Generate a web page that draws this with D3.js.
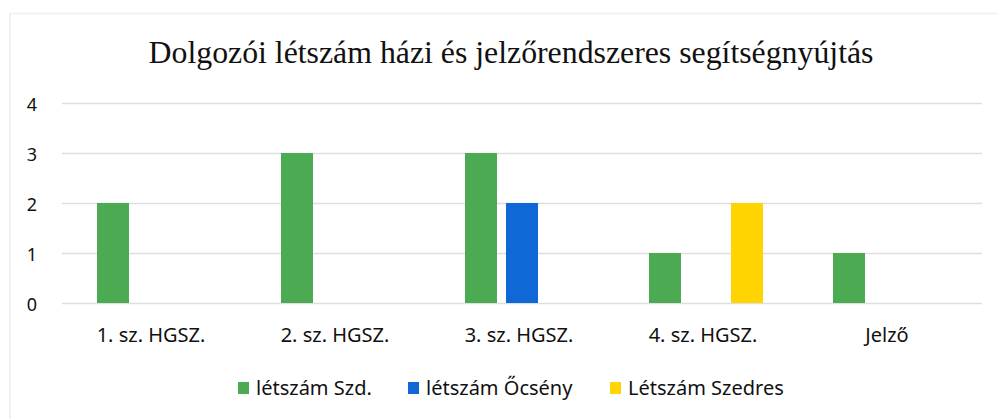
<!DOCTYPE html>
<html>
<head>
<meta charset="utf-8">
<script src="https://cdn.jsdelivr.net/npm/d3@7"></script>
<style>
  html, body { margin: 0; padding: 0; background: #fff; }
  svg { display: block; }
</style>
</head>
<body>
<svg id="chart" width="997" height="419"></svg>
<script>
const title = "Dolgozói létszám házi és jelzőrendszeres segítségnyújtás";
const categories = ["1. sz. HGSZ.", "2. sz. HGSZ.", "3. sz. HGSZ.", "4. sz. HGSZ.", "Jelző"];
const seriesNames = ["létszám Szd.", "létszám Őcsény", "Létszám Szedres"];
const szdValues = [2, 3, 3, 1, 1];
const ocsenyValues = [0, 0, 2, 0, 0];
const szedresValues = [0, 0, 0, 2, 0];
const seriesColors = ["#4caa52", "#0f68d6", "#ffd400"];
const yTicks = [0, 1, 2, 3, 4];

const seriesValues = [szdValues, ocsenyValues, szedresValues];
const svg = d3.select("#chart");
const sans = "'Noto Sans', 'Open Sans', sans-serif";

// faint frame
svg.append("line").attr("x1", 10).attr("x2", 10).attr("y1", 13).attr("y2", 419)
  .attr("stroke", "#ececec").attr("stroke-width", 1.5);
svg.append("line").attr("x1", 10).attr("x2", 997).attr("y1", 13.5).attr("y2", 13.5)
  .attr("stroke", "#efefef").attr("stroke-width", 1.5);

const plot = { left: 62, right: 982, top: 103, bottom: 303 };

const x = d3.scaleBand().domain(categories).range([plot.left, plot.right]).paddingInner(0).paddingOuter(0);
const x1 = d3.scaleBand().domain(seriesNames).range([0, 114]).paddingInner(9 / 41);
const y = d3.scaleLinear().domain([0, 4]).range([plot.bottom, plot.top]);

// title
svg.append("text")
  .attr("x", 511).attr("y", 63)
  .attr("text-anchor", "middle")
  .attr("font-family", "'Liberation Serif', 'DejaVu Serif', serif")
  .attr("font-size", 31.8)
  .attr("fill", "#111")
  .text(title);

// gridlines
svg.append("g").selectAll("line").data(yTicks).join("line")
  .attr("x1", plot.left).attr("x2", plot.right)
  .attr("y1", d => y(d) + 0.5).attr("y2", d => y(d) + 0.5)
  .attr("stroke", "#dedede").attr("stroke-width", 1.5);

// y axis labels
const yAxis = d3.axisLeft(y).tickValues(yTicks).tickSize(0).tickPadding(0).tickFormat(d3.format("d"));
const yg = svg.append("g").attr("transform", `translate(32,1)`).call(yAxis);
yg.select(".domain").remove();
yg.selectAll("text")
  .attr("font-family", sans)
  .attr("font-size", 18).attr("fill", "#111").attr("text-anchor", "middle").attr("dy", "0.35em");

// bars
const groupOffset = (x.bandwidth() - 114) / 2;
const groups = svg.append("g").selectAll("g").data(categories).join("g")
  .attr("transform", d => `translate(${x(d) + groupOffset},0)`);
groups.selectAll("rect")
  .data((d, i) => seriesNames.map((s, j) => ({ s, j, v: seriesValues[j][i] })).filter(e => e.v > 0))
  .join("rect")
  .attr("x", e => x1(e.s))
  .attr("width", x1.bandwidth())
  .attr("y", e => y(e.v))
  .attr("height", e => y(0) - y(e.v))
  .attr("fill", e => seriesColors[e.j]);

// x axis labels
const xAxis = d3.axisBottom(x).tickSize(0).tickPadding(0);
const xg = svg.append("g").attr("transform", `translate(-3,${plot.bottom + 32})`).call(xAxis);
xg.select(".domain").remove();
xg.selectAll("text")
  .attr("font-family", sans)
  .attr("font-size", 20).attr("fill", "#111").attr("dy", "0.35em").attr("y", 0);

// legend
const legendX = [238, 408, 610];
const legend = svg.append("g").selectAll("g").data(seriesNames).join("g")
  .attr("transform", (d, i) => `translate(${legendX[i]},388)`);
legend.append("rect").attr("x", 0).attr("y", -6).attr("width", 11).attr("height", 12)
  .attr("fill", (d, i) => seriesColors[i]);
legend.append("text").attr("x", 18).attr("y", 0).attr("dy", "0.35em")
  .attr("font-family", sans)
  .attr("font-size", 20).attr("fill", "#111")
  .text(d => d);
</script>
</body>
</html>
